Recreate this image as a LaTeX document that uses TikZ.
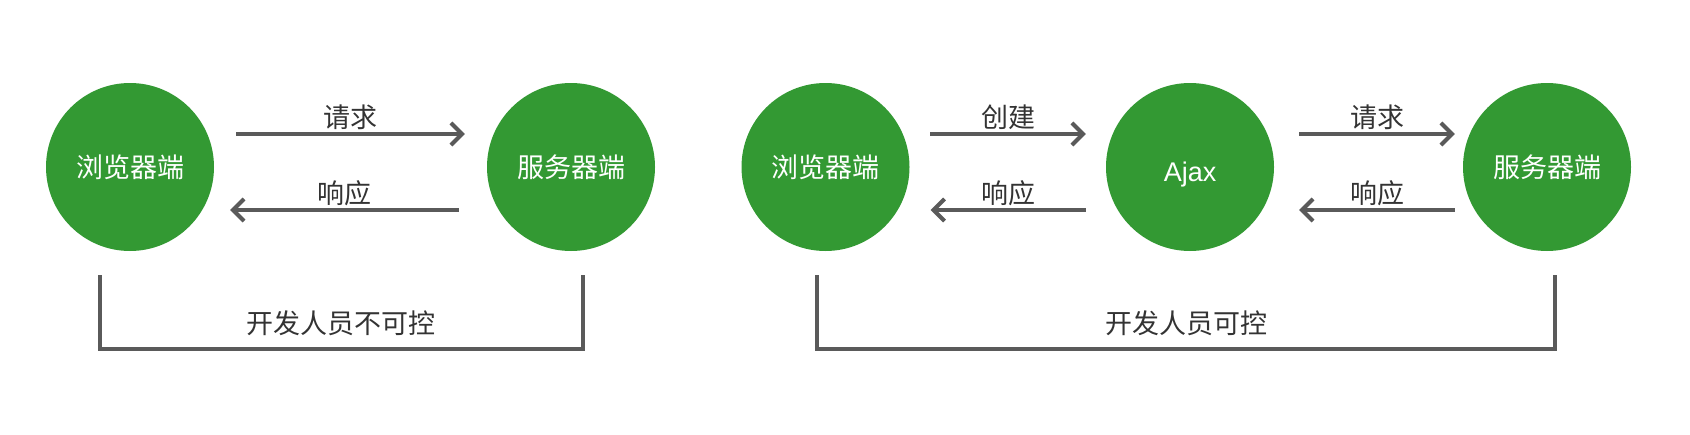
\documentclass[tikz,border=0pt]{standalone}
\usepackage{fontspec}
\setmainfont{Noto Sans CJK SC}
\newfontfamily\ajaxfont{Liberation Sans}
\usetikzlibrary{arrows.meta}
\definecolor{nodegreen}{HTML}{339933}
\definecolor{linegray}{HTML}{5A5A5A}
\definecolor{textdark}{HTML}{333333}
\begin{document}
\begin{tikzpicture}[x=1pt,y=-1pt,
  circ/.style={circle, fill=nodegreen, minimum size=168pt, inner sep=0pt, text=white, font=\fontsize{27pt}{32pt}\selectfont},
  arr/.style={draw=linegray, line width=4pt, -{Straight Barb[length=11pt,width=22pt]}},
  lbl/.style={text=textdark, font=\fontsize{27pt}{32pt}\selectfont},
  brk/.style={draw=linegray, line width=4pt}]
\useasboundingbox (0,0) rectangle (1690,434);
% left group
\node[circ] (b1) at (130,167) {浏览器端};
\node[circ] (s1) at (571,167) {服务器端};
\draw[arr] ([xshift=22pt,yshift=33pt]b1.east) -- node[lbl,yshift=17pt] (q1) {请求} ([xshift=-22pt,yshift=33pt]s1.west);
\draw[arr] ([xshift=-28pt,yshift=-43pt]s1.west) -- node[lbl,yshift=17pt] (r1) {响应} ([xshift=16pt,yshift=-43pt]b1.east);
\coordinate (l1) at (100,275);
\coordinate (l2) at (100,349);
\coordinate (l3) at (583,349);
\coordinate (l4) at (583,275);
\draw[brk] (l1) -- (l2) -- (l3) -- (l4);
\node[lbl] (t1) at (341,323) {开发人员不可控};
% right group
\node[circ] (b2) at (825.5,167) {浏览器端};
\node[circ] (aj) at (1190,167) {\raisebox{-14pt}[0pt][0pt]{\ajaxfont Ajax}};
\node[circ] (s2) at (1547,167) {服务器端};
\draw[arr] ([xshift=20.5pt,yshift=33pt]b2.east) -- node[lbl,yshift=17pt] (c2) {创建} ([xshift=-20pt,yshift=33pt]aj.west);
\draw[arr] ([xshift=-20pt,yshift=-43pt]aj.west) -- node[lbl,yshift=17pt] (r2) {响应} ([xshift=21pt,yshift=-43pt]b2.east);
\draw[arr] ([xshift=25pt,yshift=33pt]aj.east) -- node[lbl,yshift=17pt] (q3) {请求} ([xshift=-8pt,yshift=33pt]s2.west);
\draw[arr] ([xshift=-8pt,yshift=-43pt]s2.west) -- node[lbl,yshift=17pt] (r3) {响应} ([xshift=25pt,yshift=-43pt]aj.east);
\coordinate (m1) at (817,275);
\coordinate (m2) at (817,349);
\coordinate (m3) at (1555,349);
\coordinate (m4) at (1555,275);
\draw[brk] (m1) -- (m2) -- (m3) -- (m4);
\node[lbl] (t2) at (1186,323) {开发人员可控};
\end{tikzpicture}
\end{document}
